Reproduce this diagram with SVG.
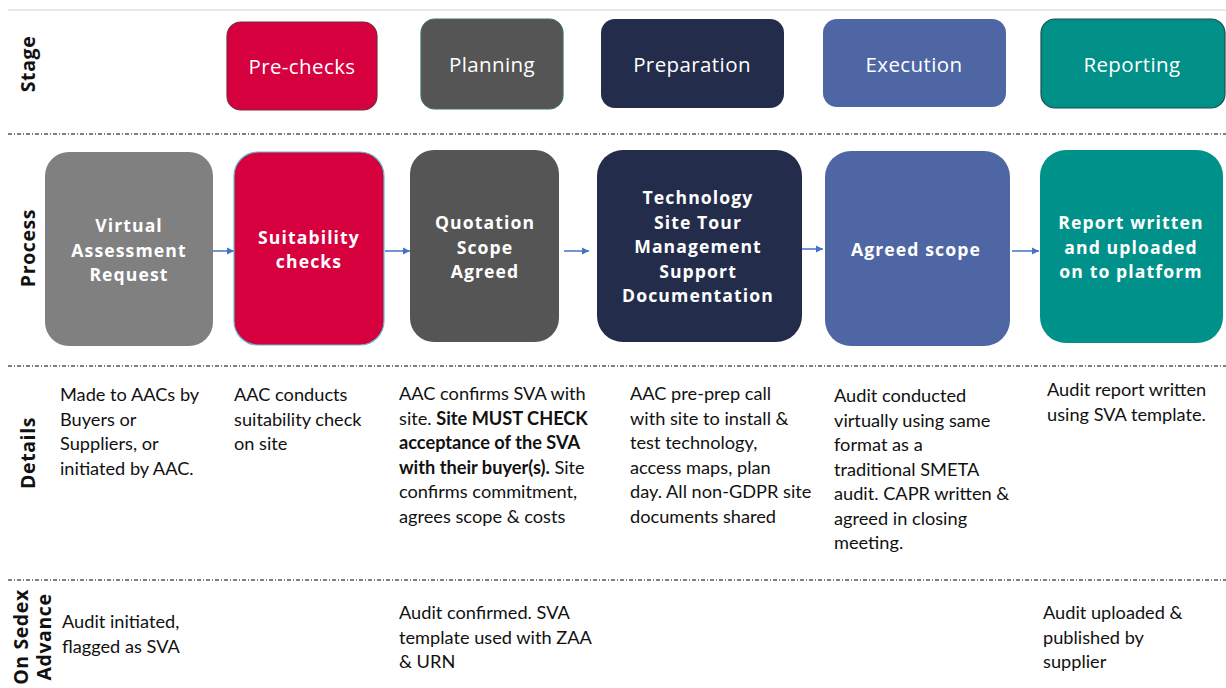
<svg xmlns="http://www.w3.org/2000/svg" width="1226" height="688" viewBox="0 0 1226 688">
<defs>
<marker id="ah" markerWidth="8" markerHeight="8" refX="7" refY="4" orient="auto" markerUnits="userSpaceOnUse">
<path d="M0,0.5 L7,4 L0,7.5 z" fill="#4472C4"/>
</marker>
<style>
.sep{stroke:#555;stroke-width:1.5;stroke-dasharray:4 2 1 2;fill:none}
.row{font-family:"Open Sans","Liberation Sans",sans-serif;font-weight:bold;font-size:19.5px;letter-spacing:0.6px;fill:#111;text-anchor:middle}
.stg{font-family:"Open Sans","Liberation Sans",sans-serif;font-size:20.5px;letter-spacing:0.4px;fill:#fff;text-anchor:middle;dominant-baseline:central}
.prc{font-family:"Open Sans","Liberation Sans",sans-serif;font-weight:bold;font-size:17.6px;letter-spacing:1.1px;fill:#fff;text-anchor:middle;dominant-baseline:central}
.det{font-family:"Lato","Liberation Sans",sans-serif;font-size:18.2px;fill:#111}
.b{font-weight:bold}
.conn{stroke:#4472C4;stroke-width:1.5;fill:none;marker-end:url(#ah)}
</style>
</defs>
<rect width="1226" height="688" fill="#fff"/>
<line x1="8" y1="10" x2="1226" y2="10" stroke="#e2e2e2" stroke-width="1.5"/>
<line class="sep" x1="8" y1="134" x2="1226" y2="134"/>
<line class="sep" x1="8" y1="366" x2="1226" y2="366"/>
<line class="sep" x1="8" y1="580" x2="1226" y2="580"/>

<g id="row-labels">
<text class="row" transform="translate(35,64) rotate(-90)">Stage</text>
<text class="row" transform="translate(35,248) rotate(-90)">Process</text>
<text class="row" transform="translate(35,453) rotate(-90)">Details</text>
<text class="row" transform="translate(28,637) rotate(-90)">On Sedex</text>
<text class="row" transform="translate(51,637) rotate(-90)">Advance</text>
</g>

<g id="stage-prechecks"><rect x="227" y="22" width="150" height="88" rx="14" fill="#D6003F" stroke="#7a2a3a" stroke-width="1.2"/><text class="stg" x="302" y="66">Pre-checks</text></g>
<g id="stage-planning"><rect x="421" y="19" width="142" height="90" rx="14" fill="#555555" stroke="#3e6e6a" stroke-width="1.2"/><text class="stg" x="492" y="64">Planning</text></g>
<g id="stage-preparation"><rect x="601" y="19" width="183" height="89" rx="14" fill="#232D4B"/><text class="stg" x="692" y="64">Preparation</text></g>
<g id="stage-execution"><rect x="823" y="19" width="183" height="88" rx="14" fill="#4F66A4"/><text class="stg" x="914" y="64">Execution</text></g>
<g id="stage-reporting"><rect x="1041" y="19" width="184" height="89" rx="14" fill="#009088" stroke="#1d4f4b" stroke-width="1.2"/><text class="stg" x="1132" y="64">Reporting</text></g>

<g id="connectors">
<line class="conn" x1="213" y1="251" x2="234" y2="251"/>
<line class="conn" x1="385" y1="251" x2="410" y2="251"/>
<line class="conn" x1="564" y1="251" x2="589" y2="251"/>
<line class="conn" x1="802" y1="249" x2="823" y2="249"/>
<line class="conn" x1="1012" y1="251" x2="1039" y2="251"/>
</g>

<g id="proc-request"><rect x="45" y="152" width="168" height="194" rx="24" fill="#808080"/>
<text class="prc" x="129" y="225">Virtual</text><text class="prc" x="129" y="249.5">Assessment</text><text class="prc" x="129" y="274">Request</text></g>
<g id="proc-suitability"><rect x="234" y="152" width="150" height="193" rx="24" fill="#D6003F" stroke="#5fbfcf" stroke-width="1.2"/>
<text class="prc" x="309" y="237">Suitability</text><text class="prc" x="309" y="261">checks</text></g>
<g id="proc-quotation"><rect x="410" y="150" width="149" height="192" rx="24" fill="#555555"/>
<text class="prc" x="485" y="222">Quotation</text><text class="prc" x="485" y="246.5">Scope</text><text class="prc" x="485" y="271">Agreed</text></g>
<g id="proc-technology"><rect x="597" y="150" width="205" height="192" rx="26" fill="#232D4B"/>
<text class="prc" x="698" y="197">Technology</text><text class="prc" x="698" y="221.5">Site Tour</text><text class="prc" x="698" y="246">Management</text><text class="prc" x="698" y="270.5">Support</text><text class="prc" x="698" y="295">Documentation</text></g>
<g id="proc-agreed"><rect x="825" y="151" width="185" height="195" rx="26" fill="#4F66A4"/>
<text class="prc" x="916" y="249">Agreed scope</text></g>
<g id="proc-report"><rect x="1040" y="150" width="183" height="193" rx="26" fill="#00928A"/>
<text class="prc" x="1131" y="222">Report written</text><text class="prc" x="1131" y="246.5">and uploaded</text><text class="prc" x="1131" y="271">on to platform</text></g>

<g id="details">
<text class="det" x="60" y="401">Made to AACs by</text>
<text class="det" x="60" y="425.5">Buyers or</text>
<text class="det" x="60" y="450">Suppliers, or</text>
<text class="det" x="60" y="474.5">initiated by AAC.</text>

<text class="det" x="234" y="401">AAC conducts</text>
<text class="det" x="234" y="425.5">suitability check</text>
<text class="det" x="234" y="450">on site</text>

<text class="det" x="399" y="400">AAC confirms SVA with</text>
<text class="det" x="399" y="424.5">site. <tspan class="b">Site MUST CHECK</tspan></text>
<text class="det b" x="399" y="449">acceptance of the SVA</text>
<text class="det" x="399" y="473.5"><tspan class="b">with their buyer(s).</tspan> Site</text>
<text class="det" x="399" y="498">confirms commitment,</text>
<text class="det" x="399" y="522.5">agrees scope &amp; costs</text>

<text class="det" x="630" y="400">AAC pre-prep call</text>
<text class="det" x="630" y="424.5">with site to install &amp;</text>
<text class="det" x="630" y="449">test technology,</text>
<text class="det" x="630" y="473.5">access maps, plan</text>
<text class="det" x="630" y="498">day. All non-GDPR site</text>
<text class="det" x="630" y="522.5">documents shared</text>

<text class="det" x="834" y="402">Audit conducted</text>
<text class="det" x="834" y="426.5">virtually using same</text>
<text class="det" x="834" y="451">format as a</text>
<text class="det" x="834" y="475.5">traditional SMETA</text>
<text class="det" x="834" y="500">audit. CAPR written &amp;</text>
<text class="det" x="834" y="524.5">agreed in closing</text>
<text class="det" x="834" y="549">meeting.</text>

<text class="det" x="1047" y="396">Audit report written</text>
<text class="det" x="1047" y="420.5">using SVA template.</text>
</g>

<g id="sedex">
<text class="det" x="62" y="628">Audit initiated,</text>
<text class="det" x="62" y="652.5">flagged as SVA</text>

<text class="det" x="399" y="619">Audit confirmed. SVA</text>
<text class="det" x="399" y="643.5">template used with ZAA</text>
<text class="det" x="399" y="668">&amp; URN</text>

<text class="det" x="1043" y="619">Audit uploaded &amp;</text>
<text class="det" x="1043" y="643.5">published by</text>
<text class="det" x="1043" y="668">supplier</text>
</g>
</svg>
